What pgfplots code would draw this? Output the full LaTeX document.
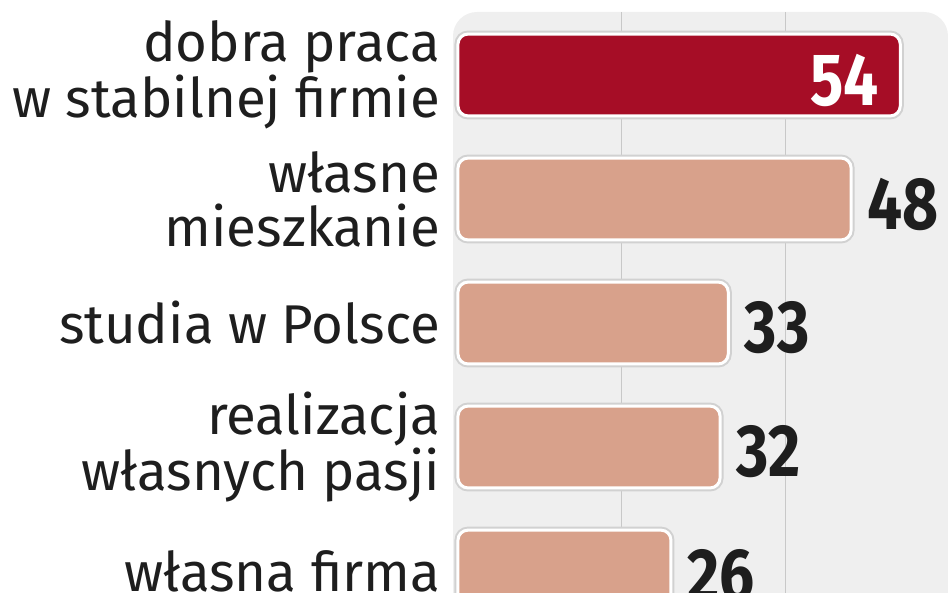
\documentclass[border=0pt]{standalone}
\usepackage{pgfplots}
\pgfplotsset{compat=1.18}
\usepackage{fontspec}
\setmainfont{Fira Sans}
\newfontfamily\numfont{Fira Sans}[FakeStretch=0.84]

\definecolor{bg}{HTML}{EFEFEF}
\definecolor{gridc}{HTML}{C8C8C8}
\definecolor{topbar}{HTML}{A60D26}
\definecolor{bar}{HTML}{D8A18B}
\definecolor{txt}{HTML}{1E1E1E}

\begin{document}
\begin{tikzpicture}
\useasboundingbox (0pt,0pt) rectangle (474pt,296.5pt);
\clip (0pt,0pt) rectangle (474pt,296.5pt);
\fill[bg, rounded corners=12pt] (226.5pt,-30pt) rectangle (474pt,290.5pt);
\begin{axis}[
    at={(226.5pt,0pt)}, anchor=south west,
    scale only axis,
    width=247.5pt, height=290.5pt,
    xmin=-0.61, xmax=59.83,
    ymin=-0.177, ymax=4.508,
    xbar, bar width=0.66,
    axis line style={draw=none},
    tick style={draw=none},
    xtick={20,40}, xticklabels={},
    xmajorgrids,
    grid style={draw=gridc, line width=0.6pt},
    ytick={0,1,2,3,4},
    yticklabels={{własna firma},{realizacja\\własnych pasji},{studia w Polsce},{własne\\mieszkanie},{dobra praca\\w stabilnej firmie}},
    yticklabel style={align=right, inner sep=0pt, xshift=-2pt, text=txt,
        font=\fontsize{27.3}{27}\selectfont},
    point meta=x,
    /pgf/number format/assume math mode=true,
    nodes near coords,
    every node near coord/.append style={inner sep=0pt, yshift=-2.5pt,
        font={\numfont\bfseries\fontsize{37}{37}\selectfont}},
    bars/.style={draw=white, line width=1.5pt, rounded corners=5pt,
        preaction={draw=black!18, line width=3.5pt}, bar shift=0pt},
]
% top answer, value inside the bar
\addplot[bars, fill=topbar,
    every node near coord/.append style={anchor=east, xshift=-10pt, text=white}]
    coordinates {(54,4)};
% other answers, value right of the bar
\addplot[bars, fill=bar,
    every node near coord/.append style={anchor=west, xshift=7.5pt, text=txt}]
    coordinates {(48,3) (33,2) (32,1) (26,0)};
\end{axis}
\end{tikzpicture}
\end{document}
